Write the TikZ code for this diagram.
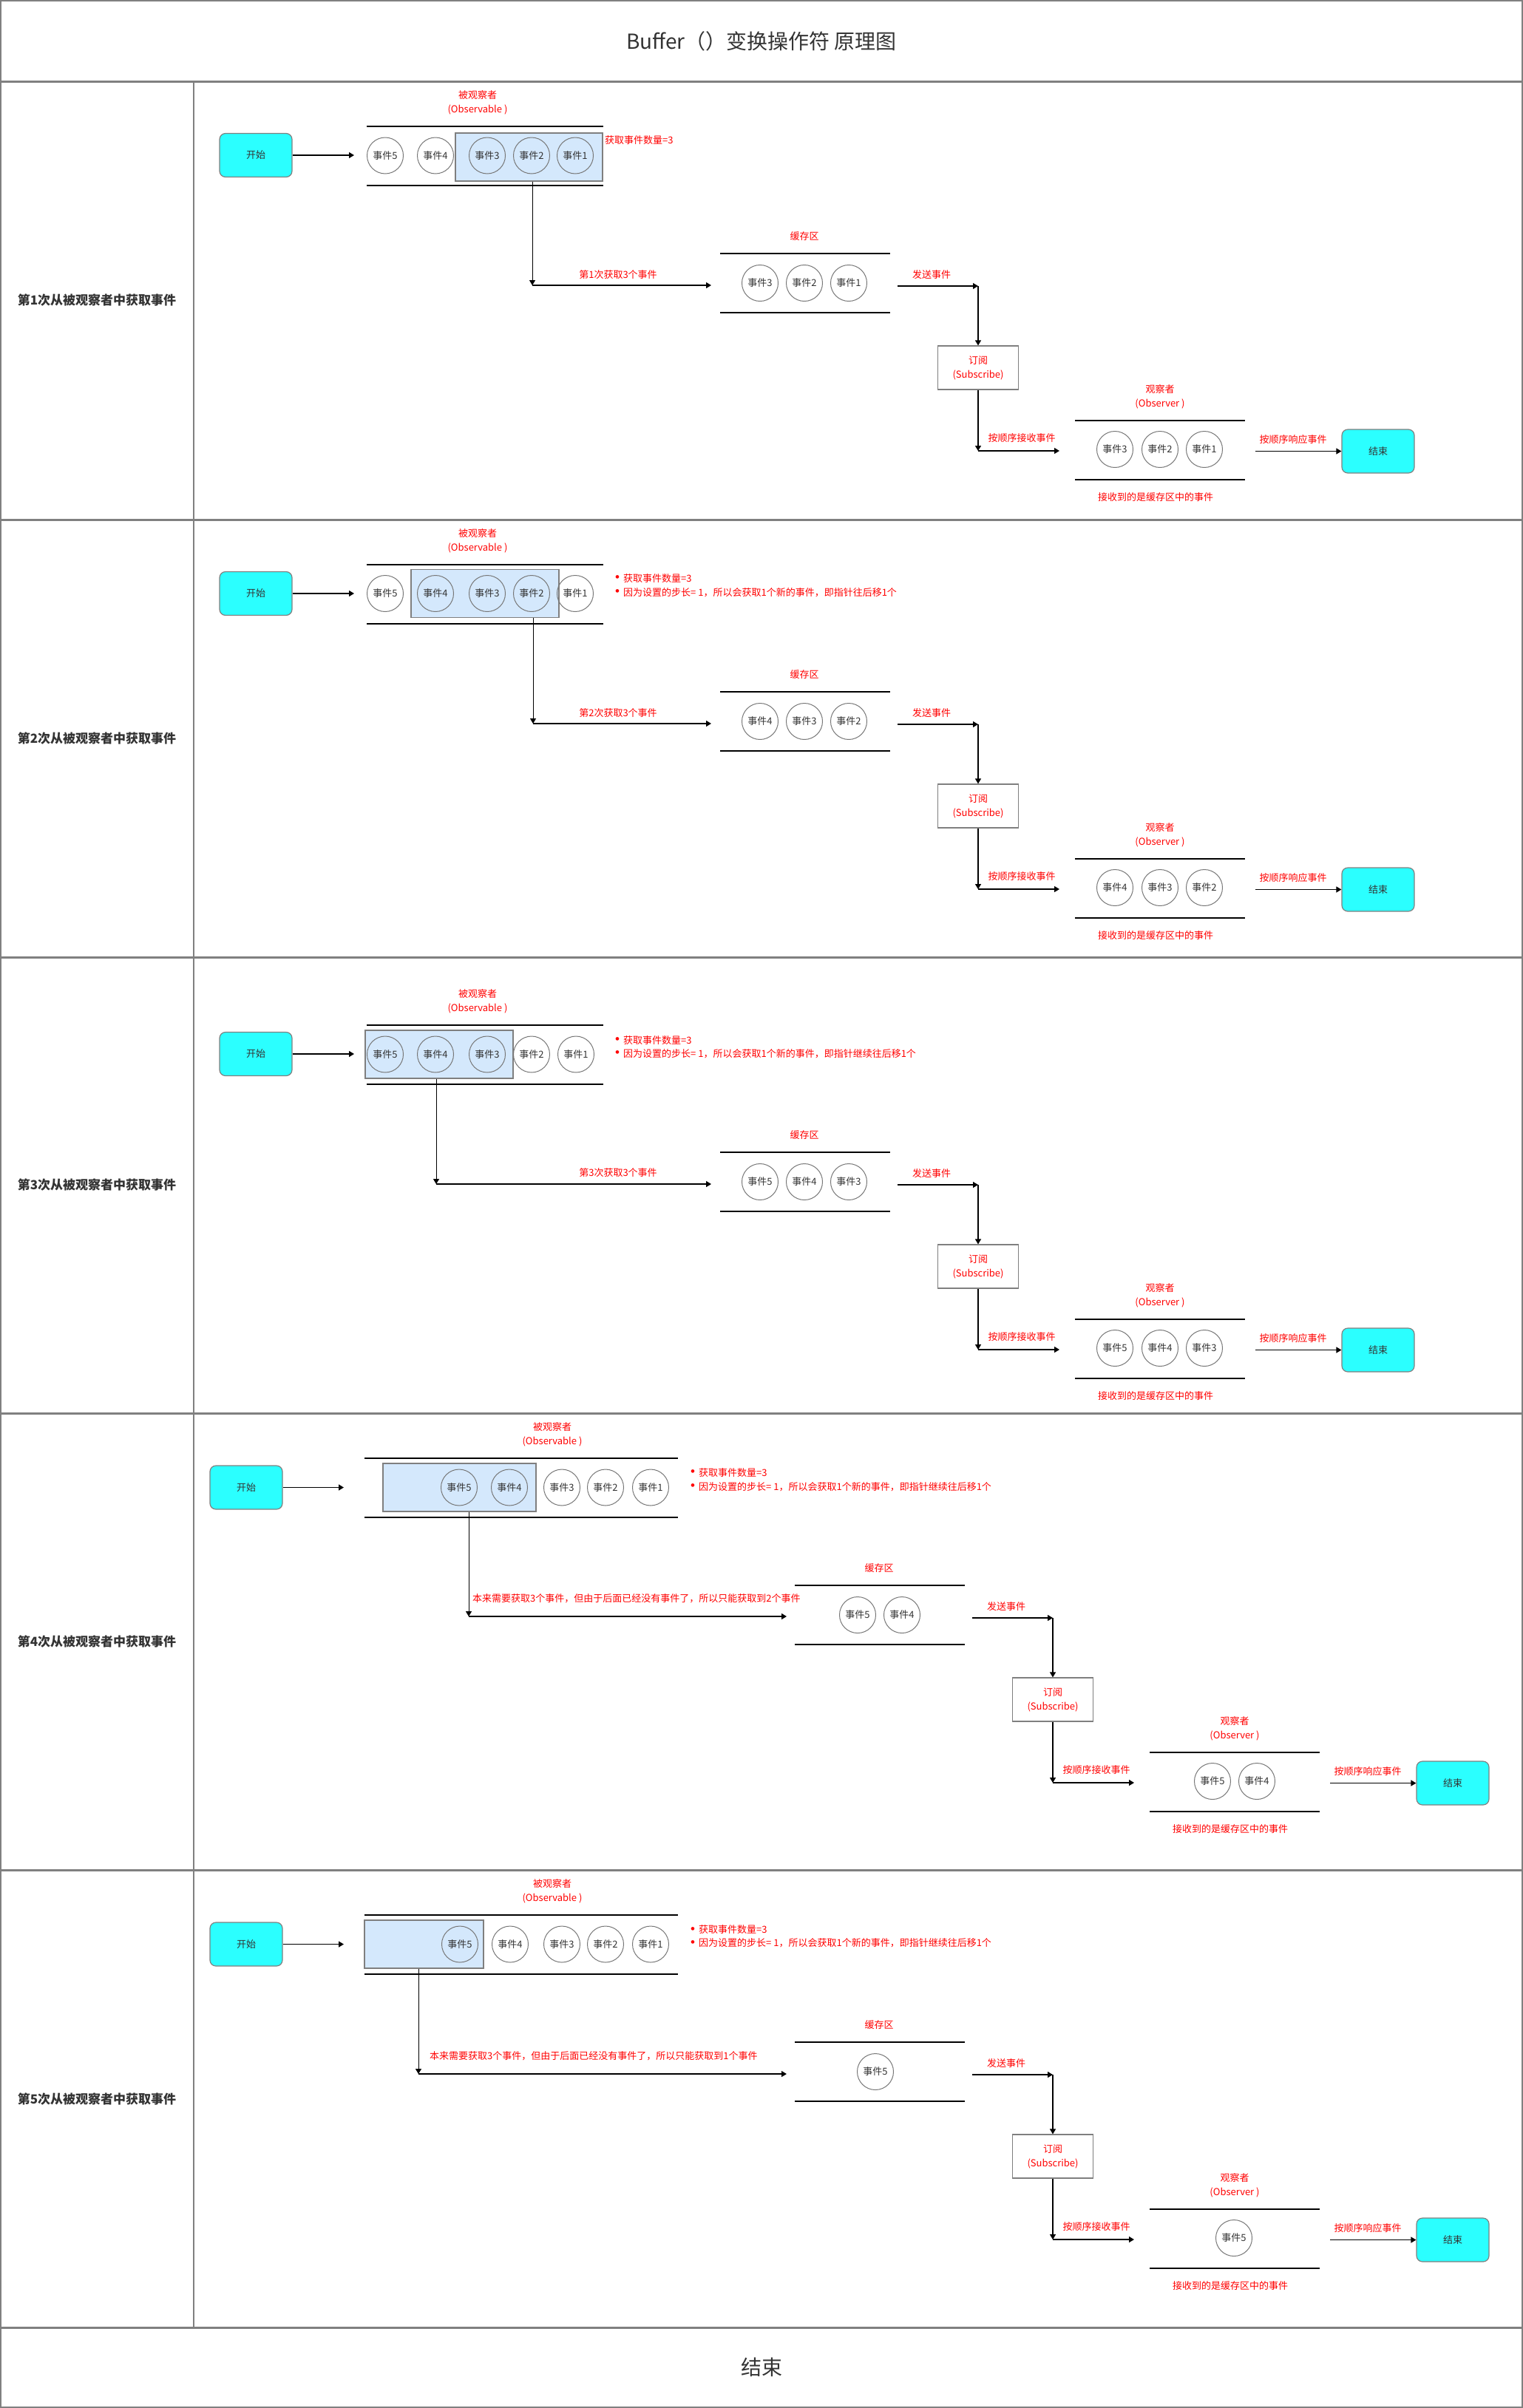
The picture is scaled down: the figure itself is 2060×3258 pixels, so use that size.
\documentclass[tikz,border=0pt]{standalone}
\usepackage{fontspec}
\setmainfont{Noto Sans CJK SC}
\newfontfamily\bulletfont{Liberation Sans}
\usetikzlibrary{arrows.meta}
\definecolor{cyanfill}{HTML}{2BFFFF}
\definecolor{bluefill}{HTML}{D4E8FC}
\definecolor{bordergray}{HTML}{7F7F7F}
\definecolor{circgray}{HTML}{777777}
\definecolor{darktext}{HTML}{333333}
\definecolor{redtext}{HTML}{FF0000}
\definecolor{lanegray}{HTML}{808080}
\tikzset{
  every node/.style={inner sep=0pt},
  txt/.style={font=\fontsize{13}{19}\selectfont},
  redtxt/.style={txt, text=redtext, align=center},
  bul/.style={font=\bulletfont\fontsize{17}{19}\selectfont, text=redtext},
  startend/.style={draw=bordergray, line width=1.2, fill=cyanfill, rounded corners=8,
    minimum width=98, minimum height=59, txt, text=darktext},
  ev/.style={circle, draw=circgray, line width=1, minimum size=49, txt, text=darktext},
  hlbox/.style={draw=bordergray, line width=1.3, fill=bluefill},
  subbox/.style={draw=bordergray, line width=1.2, fill=white, minimum width=109,
    minimum height=59, redtxt},
  blk/.style={line width=2, black},
  conn/.style={line width=1.3, black, -{Triangle[length=7,width=8]}},
  lanelabel/.style={font=\fontsize{17}{20}\selectfont\bfseries, text=darktext},
  bigtxt/.style={font=\fontsize{28}{32}\selectfont, text=darktext},
}
% right part of a lane: buffer, subscribe, observer, end
\newcommand\rpart[3]{%
  \node[redtxt] (bl#1) at (1088,320) {缓存区};
  \draw[blk] (974,343) -- (1204,343);
  \draw[blk] (974,423) -- (1204,423);
  \foreach \x/\t in {#2} \node[ev] (b#1-\t) at (\x,383) {事件\t};
  \coordinate (sa#1) at (1214,387);
  \coordinate (sc#1) at (1323,387);
  \draw[conn] (sa#1) -- (sc#1);
  \node[redtxt] (sl#1) at (1260,372) {发送事件};
  \node[subbox] (sub#1) at (1323,497.5) {订阅\\(Subscribe)};
  \draw[conn] (sc#1) -- (sub#1.north);
  \coordinate (rc#1) at (1323,610);
  \draw[conn] (sub#1.south) -- (rc#1);
  \coordinate (ra#1) at (1433,610);
  \draw[conn] (rc#1) -- (ra#1);
  \node[redtxt] (rl#1) at (1382,593) {按顺序接收事件};
  \node[redtxt] (obl#1) at (1569,536.5) {观察者\\(Observer )};
  \draw[blk] (1454,569) -- (1684,569);
  \draw[blk] (1454,649) -- (1684,649);
  \foreach \x/\t in {#3} \node[ev] (r#1-\t) at (\x,608) {事件\t};
  \node[redtxt] (rec#1) at (1563,673) {接收到的是缓存区中的事件};
  \node[startend] (en#1) at (1864,610.5) {结束};
  \coordinate (pa#1) at (1698,610.5);
  \draw[conn] (pa#1) -- (en#1.west);
  \node[redtxt] (pl#1) at (1749,595) {按顺序响应事件};
}
\begin{document}
\begin{tikzpicture}[x=1pt,y=-1pt]
\useasboundingbox (0,0) rectangle (2060,3258);
% frame
\draw[lanegray, line width=2] (1,1) rectangle (2059,3257);
\foreach \yy in {110,703,1295,1912,2530,3149} \draw[lanegray, line width=3] (0,\yy) -- (2060,\yy);
\draw[lanegray, line width=1.5] (262,110) -- (262,3149);
\node[bigtxt] (title) at (1030,56) {Buffer（）变换操作符 原理图};
\node[bigtxt] (fin) at (1030,3203) {结束};
\node[lanelabel] (ll1) at (131,406) {第1次从被观察者中获取事件};
\node[lanelabel] (ll2) at (131,999) {第2次从被观察者中获取事件};
\node[lanelabel] (ll3) at (131,1603) {第3次从被观察者中获取事件};
\node[lanelabel] (ll4) at (131,2221) {第4次从被观察者中获取事件};
\node[lanelabel] (ll5) at (131,2840) {第5次从被观察者中获取事件};

% ---------- lane 1
\begin{scope}
\node[startend] (st1) at (346,210) {开始};
\coordinate (oa1) at (479,210);
\draw[conn] (st1) -- (oa1);
\node[redtxt] (ol1) at (646,138.5) {被观察者\\(Observable )};
\draw[blk] (496,171) -- (816,171);
\draw[blk] (496,251) -- (816,251);
\node[hlbox, minimum width=199, minimum height=65] (hb1) at (715.5,212.5) {};
\foreach \x/\t in {521/5,589/4,659/3,719/2,778/1} \node[ev] (e1-\t) at (\x,210.5) {事件\t};
\node[redtxt, anchor=west] (cnt1) at (818,190) {获取事件数量=3};
\coordinate (vc1) at (720,386);
\draw[line width=1, black, -{Triangle[length=7,width=8]}] (hb1.south -| vc1) -- (vc1);
\coordinate (ba1) at (962,386);
\draw[conn] (vc1) -- (ba1);
\node[redtxt] (gl1) at (836,372) {第1次获取3个事件};
\rpart{1}{1028/3,1088/2,1148/1}{1508/3,1569/2,1629/1}
\end{scope}

% ---------- lane 2
\begin{scope}[shift={(0,593)}]
\node[startend] (st2) at (346,210) {开始};
\coordinate (oa2) at (479,210);
\draw[conn] (st2) -- (oa2);
\node[redtxt] (ol2) at (646,138.5) {被观察者\\(Observable )};
\draw[blk] (496,171) -- (816,171);
\draw[blk] (496,251) -- (816,251);
\node[hlbox, minimum width=200, minimum height=65] (hb2) at (656,210) {};
\foreach \x/\t in {521/5,589/4,659/3,719/2,778/1} \node[ev] (e2-\t) at (\x,210) {事件\t};
\node[bul] (bu2a) at (835,190) {•};
\node[redtxt, anchor=west] (cnt2) at (843,190) {获取事件数量=3};
\node[bul] (bu2b) at (835,209) {•};
\node[redtxt, anchor=west] (why2) at (843,209) {因为设置的步长= 1，所以会获取1个新的事件，即指针往后移1个};
\coordinate (vc2) at (721,386);
\draw[line width=1, black, -{Triangle[length=7,width=8]}] (hb2.south -| vc2) -- (vc2);
\coordinate (ba2) at (962,386);
\draw[conn] (vc2) -- (ba2);
\node[redtxt] (gl2) at (836,372) {第2次获取3个事件};
\rpart{2}{1028/4,1088/3,1148/2}{1508/4,1569/3,1629/2}
\end{scope}

% ---------- lane 3
\begin{scope}[shift={(0,1216)}]
\node[startend] (st3) at (346,210) {开始};
\coordinate (oa3) at (479,210);
\draw[conn] (st3) -- (oa3);
\node[redtxt] (ol3) at (646,138.5) {被观察者\\(Observable )};
\draw[blk] (496,171) -- (816,171);
\draw[blk] (496,251) -- (816,251);
\node[hlbox, minimum width=200, minimum height=65] (hb3) at (594,210.5) {};
\foreach \x/\t in {521/5,589/4,659/3,719/2,779/1} \node[ev] (e3-\t) at (\x,210.5) {事件\t};
\node[bul] (bu3a) at (835,192) {•};
\node[redtxt, anchor=west] (cnt3) at (843,192) {获取事件数量=3};
\node[bul] (bu3b) at (835,210) {•};
\node[redtxt, anchor=west] (why3) at (843,210) {因为设置的步长= 1，所以会获取1个新的事件，即指针继续往后移1个};
\coordinate (vc3) at (590,386);
\draw[line width=1, black, -{Triangle[length=7,width=8]}] (hb3.south -| vc3) -- (vc3);
\coordinate (ba3) at (962,386);
\draw[conn] (vc3) -- (ba3);
\node[redtxt] (gl3) at (836,371) {第3次获取3个事件};
\rpart{3}{1028/5,1088/4,1148/3}{1508/5,1569/4,1629/3}
\end{scope}

% ---------- lane 4
\begin{scope}[shift={(0,1802)}]
\node[startend] (st4) at (333,210.5) {开始};
\coordinate (oa4) at (465,210.5);
\draw[conn] (st4) -- (oa4);
\node[redtxt] (ol4) at (747,139) {被观察者\\(Observable )};
\draw[blk] (493,171) -- (917,171);
\draw[blk] (493,251) -- (917,251);
\node[hlbox, minimum width=207, minimum height=65] (hb4) at (621.5,210.5) {};
\foreach \x/\t in {621/5,689/4,760/3,819/2,880/1} \node[ev] (e4-\t) at (\x,210.5) {事件\t};
\node[bul] (bu4a) at (937,191) {•};
\node[redtxt, anchor=west] (cnt4) at (945,191) {获取事件数量=3};
\node[bul] (bu4b) at (937,210) {•};
\node[redtxt, anchor=west] (why4) at (945,210) {因为设置的步长= 1，所以会获取1个新的事件，即指针继续往后移1个};
\coordinate (vc4) at (634,385);
\draw[line width=1, black, -{Triangle[length=7,width=8]}] (hb4.south -| vc4) -- (vc4);
\coordinate (ba4) at (1064,385);
\draw[conn] (vc4) -- (ba4);
\node[redtxt, anchor=west] (gl4) at (639,361) {本来需要获取3个事件，但由于后面已经没有事件了，所以只能获取到2个事件};
\begin{scope}[shift={(101,0)}]
\rpart{4}{1059/5,1119/4}{1539/5,1599/4}
\end{scope}
\end{scope}

% ---------- lane 5
\begin{scope}[shift={(0,2420)}]
\node[startend] (st5) at (333,210.5) {开始};
\coordinate (oa5) at (465,210.5);
\draw[conn] (st5) -- (oa5);
\node[redtxt] (ol5) at (747,139) {被观察者\\(Observable )};
\draw[blk] (493,171) -- (917,171);
\draw[blk] (493,251) -- (917,251);
\node[hlbox, minimum width=161, minimum height=65] (hb5) at (573.5,210.5) {};
\foreach \x/\t in {622/5,690/4,760/3,819/2,880/1} \node[ev] (e5-\t) at (\x,210.5) {事件\t};
\node[bul] (bu5a) at (937,191) {•};
\node[redtxt, anchor=west] (cnt5) at (945,191) {获取事件数量=3};
\node[bul] (bu5b) at (937,209) {•};
\node[redtxt, anchor=west] (why5) at (945,209) {因为设置的步长= 1，所以会获取1个新的事件，即指针继续往后移1个};
\coordinate (vc5) at (566,386);
\draw[line width=1, black, -{Triangle[length=7,width=8]}] (hb5.south -| vc5) -- (vc5);
\coordinate (ba5) at (1064,386);
\draw[conn] (vc5) -- (ba5);
\node[redtxt, anchor=west] (gl5) at (581,362) {本来需要获取3个事件，但由于后面已经没有事件了，所以只能获取到1个事件};
\begin{scope}[shift={(101,0)}]
\rpart{5}{1083/5}{1568/5}
\end{scope}
\end{scope}
\end{tikzpicture}
\end{document}
